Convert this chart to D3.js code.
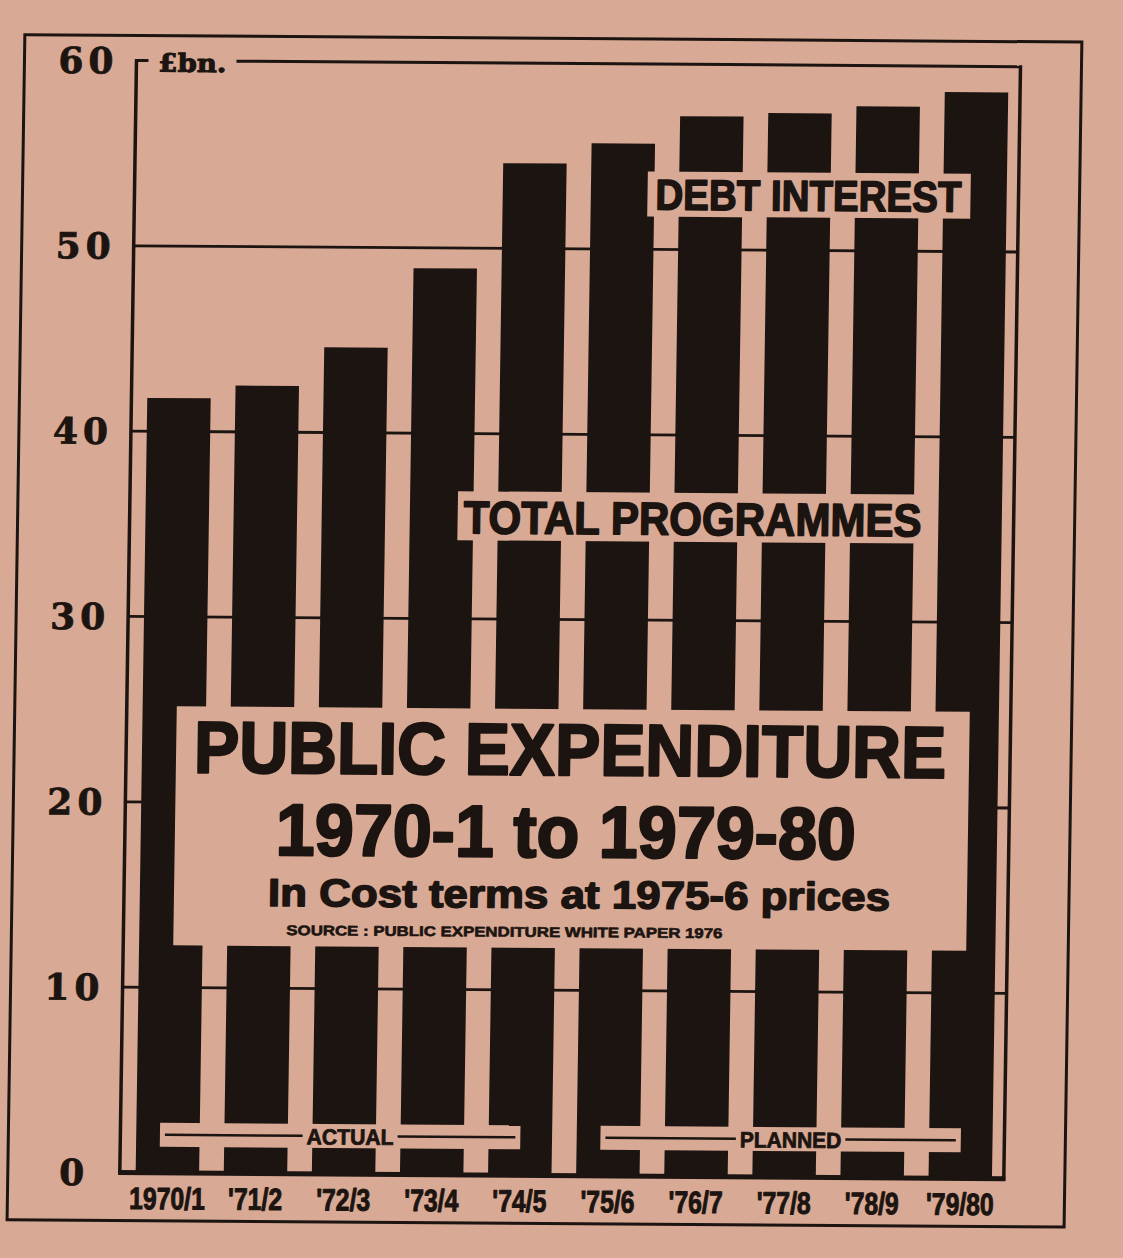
<!DOCTYPE html>
<html>
<head>
<meta charset="utf-8">
<script src="https://cdn.jsdelivr.net/npm/d3@7"></script>
<style>
  body { margin: 0; background: #d8a994; }
  svg { display: block; }
</style>
</head>
<body>
<div id="chart"></div>
<script>
// values (£bn, 1975-6 prices)
const years = ["1970/1", "'71/2", "'72/3", "'73/4", "'74/5", "'75/6", "'76/7", "'77/8", "'78/9", "'79/80"];
const totals = [41.8, 42.5, 44.6, 48.9, 54.6, 55.7, 57.2, 57.4, 57.8, 58.6];
const yTicks = [0, 10, 20, 30, 40, 50, 60];
const periodLabels = ["ACTUAL", "PLANNED"];
const periodFirst = ["1970/1", "'75/6"];
const periodLast = ["'74/5", "'79/80"];
const titleLines = ["PUBLIC EXPENDITURE", "1970-1 to 1979-80", "In Cost terms at 1975-6 prices",
  "SOURCE : PUBLIC EXPENDITURE WHITE PAPER 1976"];

const W = 1123, H = 1258;
const ink = "#1c1410", paper = "#d8a994";
const sans = "'Liberation Sans', Arial, sans-serif";
const serif = "'DejaVu Serif', 'Liberation Serif', serif";

const svg = d3.select("#chart").append("svg")
  .attr("width", W)
  .attr("height", H);

svg.append("rect").attr("width", W).attr("height", H).attr("fill", paper);

// the newsprint is photographed a little skewed
const g = svg.append("g")
  .attr("transform", "matrix(1,0.007,-0.015,1,9.435,-3.927)");

// SCALES
const x = d3.scaleBand().domain(years).range([128, 1016]).paddingInner(0.28).paddingOuter(0.18);
const y = d3.scaleLinear().domain([0, 60]).range([1175.5, 63.5]);
const left = 128, right = 1012;

// heavy, squeezed type (stroke fattens it like the printed face)
function heavyText(sel, size, len, weight) {
  sel.attr("font-family", sans).attr("font-weight", "bold").attr("font-size", size)
    .attr("fill", ink).attr("stroke", ink).attr("stroke-width", weight)
    .attr("stroke-linejoin", "round");
  if (len) sel.attr("textLength", len).attr("lengthAdjust", "spacingAndGlyphs");
  return sel;
}

// outer frame
g.append("rect")
  .attr("x", 16).attr("y", 38.5)
  .attr("width", 1057).attr("height", 1185)
  .attr("fill", "none").attr("stroke", ink).attr("stroke-width", 3);

// GRID
g.selectAll(".grid").data(yTicks.filter(d => d > 0 && d < 60))
  .enter().append("line")
  .attr("class", "grid")
  .attr("x1", left).attr("x2", right)
  .attr("y1", d => y(d)).attr("y2", d => y(d))
  .attr("stroke", ink).attr("stroke-width", 2.8);

// top line broken by the unit label
g.append("line").attr("x1", left).attr("x2", 140).attr("y1", y(60)).attr("y2", y(60))
  .attr("stroke", ink).attr("stroke-width", 3);
g.append("line").attr("x1", 228).attr("x2", right).attr("y1", y(60)).attr("y2", y(60))
  .attr("stroke", ink).attr("stroke-width", 3);
g.append("text").text("£bn.")
  .attr("x", 150).attr("y", y(60) + 11)
  .attr("textLength", 68).attr("lengthAdjust", "spacingAndGlyphs")
  .attr("font-family", serif).attr("font-weight", "bold").attr("font-size", 25)
  .attr("fill", ink).attr("stroke", ink).attr("stroke-width", 1);

g.append("line").attr("x1", left).attr("x2", left).attr("y1", y(60) - 1.5).attr("y2", y(0) + 2)
  .attr("stroke", ink).attr("stroke-width", 3.5);
g.append("line").attr("x1", right).attr("x2", right).attr("y1", y(60) - 1.5).attr("y2", y(0) + 2)
  .attr("stroke", ink).attr("stroke-width", 3.5);

// BARS
g.selectAll(".bar").data(totals)
  .enter().append("rect")
  .attr("class", "bar")
  .attr("x", (d, i) => x(years[i]))
  .attr("y", d => y(d))
  .attr("width", x.bandwidth())
  .attr("height", d => y(0) - y(d))
  .attr("fill", ink);

// baseline
g.append("line").attr("x1", left - 1.5).attr("x2", right + 1.5).attr("y1", y(0)).attr("y2", y(0))
  .attr("stroke", ink).attr("stroke-width", 5);

// Y LABELS
g.selectAll(".ylab").data(yTicks)
  .enter().append("text")
  .attr("class", "ylab")
  .text(d => d)
  .attr("x", 80)
  .attr("y", d => y(d) + 13)
  .attr("text-anchor", "middle")
  .attr("letter-spacing", d => d > 0 ? 5 : 0)
  .attr("font-family", serif).attr("font-weight", "bold").attr("font-size", 36)
  .attr("fill", ink).attr("stroke", ink).attr("stroke-width", 0.8);

// X LABELS (condensed)
g.selectAll(".xlab").data(years)
  .enter().append("text")
  .attr("class", "xlab")
  .text(d => d)
  .attr("x", d => x(d) + x.bandwidth() / 2)
  .attr("y", 1212)
  .attr("text-anchor", "middle")
  .call(heavyText, 31, null, 1)
  .each(function () {
    const len = this.getComputedTextLength() * 0.8;
    d3.select(this).attr("textLength", len).attr("lengthAdjust", "spacingAndGlyphs");
  });

// series labels punched out of the bars
function label(text, bx, by, bw, bh, tx, ty, tlen, size) {
  g.append("rect").attr("x", bx).attr("y", by).attr("width", bw).attr("height", bh).attr("fill", paper);
  g.append("text").text(text)
    .attr("x", tx).attr("y", ty)
    .call(heavyText, size, tlen, 1.6);
}
label("DEBT INTEREST", 641, 171, 323, 45, 649, 209, 306, 43);
label("TOTAL PROGRAMMES", 456, 492, 467, 49, 462, 534, 458, 46);

// TITLE BOX
g.append("rect").attr("x", 178).attr("y", 709).attr("width", 793).attr("height", 239).attr("fill", paper);
const titleX = [196, 279, 272, 291];
const titleY = [775, 857, 908, 937];
const titleLen = [752, 580, 622, 436];
const titleSize = [73, 73, 39, 14];
const titleStroke = [2.4, 2.4, 1.5, 0.6];
titleLines.forEach((t, i) => {
  g.append("text").text(t)
    .attr("x", titleX[i]).attr("y", titleY[i])
    .call(heavyText, titleSize[i], titleLen[i], titleStroke[i]);
});

// ACTUAL / PLANNED brackets
periodLabels.forEach((p, i) => {
  const x0 = x(periodFirst[i]) + x.bandwidth() / 2 - 8;
  const x1 = x(periodLast[i]) + x.bandwidth() / 2;
  const tlen = p.length * 14.5;
  const tx = (x0 + x1) / 2 + 10 - tlen / 2;
  g.append("rect").attr("x", x0).attr("y", 1125.5).attr("width", x1 - x0).attr("height", 24).attr("fill", paper);
  g.append("line").attr("x1", x0 + 5).attr("x2", tx - 4).attr("y1", 1137.5).attr("y2", 1137.5)
    .attr("stroke", ink).attr("stroke-width", 2.5);
  g.append("line").attr("x1", tx + tlen + 4).attr("x2", x1 - 5).attr("y1", 1137.5).attr("y2", 1137.5)
    .attr("stroke", ink).attr("stroke-width", 2.5);
  g.append("text").text(p)
    .attr("x", tx).attr("y", 1146)
    .call(heavyText, 22, tlen, 0.8);
});
</script>
</body>
</html>
